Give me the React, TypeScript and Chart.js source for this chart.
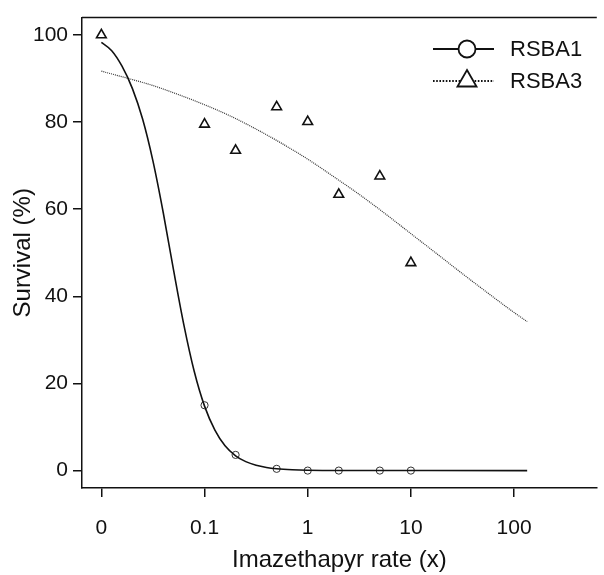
import React, { useEffect, useRef } from "react";
import { Chart, registerables } from "chart.js";

Chart.register(...registerables);

// ---- data ----
const doses = [0, 0.1, 0.2, 0.5, 1, 2, 5, 10];
const ZERO_AT = 0.01; // position where dose 0 is drawn on the log axis
const rsba1Obs = [null, 15, 3.6, 0.4, 0, 0, 0, 0];
const rsba3Obs = [100, 79.5, 73.5, 83.5, 80.1, 63.4, 67.6, 47.7];

// fitted curves
const rsba1FitX = [0.01, 0.0126, 0.0158, 0.02, 0.0251, 0.0316, 0.0398, 0.0501, 0.0631, 0.0794, 0.1, 0.126, 0.158, 0.2, 0.251, 0.316, 0.398, 0.501, 0.708, 1, 2, 134];
const rsba1FitY = [98.3, 96.4, 92.9, 87.7, 80.7, 71.1, 59.2, 46.0, 33.4, 22.8, 14.8, 9.3, 5.7, 3.4, 2.05, 1.22, 0.72, 0.43, 0.2, 0.09, 0.02, 0];

const rsba3FitX = [0.01, 0.0178, 0.0316, 0.0562, 0.1, 0.178, 0.316, 0.562, 1, 1.78, 3.16, 5.62, 10, 17.8, 31.6, 56.2, 100, 134];
const rsba3FitY = [91.7, 90.1, 88.4, 86.3, 84.0, 81.4, 78.4, 75.1, 71.5, 67.5, 63.4, 59.0, 54.4, 49.8, 45.2, 40.7, 36.3, 34.2];

const xTickValues = [0.01, 0.1, 1, 10, 100];
const xTickLabels = ["0", "0.1", "1", "10", "100"];
const yTickValues = [0, 20, 40, 60, 80, 100];

const seriesNames = ["RSBA1", "RSBA3"];

const FONT = "'Liberation Sans', Arial, Helvetica, sans-serif";
const INK = "#111";

const pos = (d: number) => (d === 0 ? ZERO_AT : d);

const frameAndLegend = {
  id: "frameAndLegend",
  afterDraw(chart: any) {
    const ctx = chart.ctx as CanvasRenderingContext2D;
    const { left, right, top } = chart.chartArea;
    ctx.save();
    // top frame line
    ctx.strokeStyle = INK;
    ctx.lineWidth = 1.5;
    ctx.beginPath();
    ctx.moveTo(left, top);
    ctx.lineTo(right, top);
    ctx.stroke();

    // legend
    const lx0 = 433, lx1 = 494, mx = 467, tx = 510;
    const rows = [49, 81];
    seriesNames.forEach((name, i) => {
      const y = rows[i];
      ctx.strokeStyle = INK;
      ctx.lineWidth = i === 0 ? 2 : 2.2;
      ctx.setLineDash(i === 0 ? [] : [1.6, 1.6]);
      ctx.beginPath();
      ctx.moveTo(lx0, y);
      ctx.lineTo(lx1, y);
      ctx.stroke();
      ctx.setLineDash([]);
      ctx.lineWidth = 1.8;
      ctx.fillStyle = "#fff";
      ctx.beginPath();
      if (i === 0) {
        ctx.arc(mx, y, 8.5, 0, Math.PI * 2);
      } else {
        const r = 11;
        ctx.moveTo(mx, y - r);
        ctx.lineTo(mx + (r * Math.sqrt(3)) / 2, y + r / 2);
        ctx.lineTo(mx - (r * Math.sqrt(3)) / 2, y + r / 2);
        ctx.closePath();
      }
      ctx.fill();
      ctx.stroke();
      ctx.fillStyle = INK;
      ctx.font = `22px ${FONT}`;
      ctx.textAlign = "left";
      ctx.textBaseline = "middle";
      ctx.fillText(name, tx, y + 1);
    });
    ctx.restore();
  },
};

export default function App() {
  const ref = useRef<HTMLCanvasElement | null>(null);

  useEffect(() => {
    if (!ref.current) return;
    const chart = new Chart(ref.current, {
      type: "scatter",
      data: {
        datasets: [
          {
            label: seriesNames[0] + " fit",
            type: "line",
            data: rsba1FitX.map((x, i) => ({ x, y: rsba1FitY[i] })),
            borderColor: INK,
            borderWidth: 1.6,
            pointRadius: 0,
            cubicInterpolationMode: "monotone",
            fill: false,
          },
          {
            label: seriesNames[1] + " fit",
            type: "line",
            data: rsba3FitX.map((x, i) => ({ x, y: rsba3FitY[i] })),
            borderColor: "#333",
            borderWidth: 1.2,
            borderDash: [1, 1],
            pointRadius: 0,
            cubicInterpolationMode: "monotone",
            fill: false,
          },
          {
            label: seriesNames[0],
            data: doses
              .map((d, i) => ({ x: pos(d), y: rsba1Obs[i] }))
              .filter((p) => p.y !== null) as any,
            showLine: false,
            pointStyle: "circle",
            pointRadius: 3.6,
            pointBorderWidth: 1,
            pointBorderColor: "#333",
            pointBackgroundColor: "rgba(0,0,0,0)",
          },
          {
            label: seriesNames[1],
            data: doses.map((d, i) => ({ x: pos(d), y: rsba3Obs[i] })),
            showLine: false,
            pointStyle: "triangle",
            pointRadius: 5.6,
            pointBorderWidth: 1.6,
            pointBorderColor: INK,
            pointBackgroundColor: "rgba(0,0,0,0)",
          },
        ],
      },
      options: {
        animation: false,
        responsive: false,
        events: [],
        layout: { padding: { top: 13, right: 0, left: 0, bottom: 0 } },
        plugins: { legend: { display: false }, tooltip: { enabled: false } },
        scales: {
          x: {
            type: "logarithmic",
            min: 0.00649,
            max: 634,
            afterBuildTicks: (scale: any) => {
              scale.ticks = xTickValues.map((v) => ({ value: v }));
            },
            afterFit: (scale: any) => {
              scale.height = 87;
            },
            ticks: {
              autoSkip: false,
              maxRotation: 0,
              padding: 19,
              color: INK,
              font: { family: FONT, size: 21 },
              callback: (_v: any, i: number) => xTickLabels[i],
            },
            grid: { drawOnChartArea: false, drawTicks: true, tickLength: 9, color: INK, lineWidth: 1.5 },
            border: { display: true, color: INK, width: 1.5 },
            title: {
              display: true,
              text: "Imazethapyr rate (x)",
              color: INK,
              font: { family: FONT, size: 24 },
              padding: { top: 0, bottom: 0 },
            },
          },
          y: {
            type: "linear",
            min: -4,
            max: 104,
            afterBuildTicks: (scale: any) => {
              scale.ticks = yTickValues.map((v) => ({ value: v }));
            },
            afterFit: (scale: any) => {
              scale.width = 82;
            },
            ticks: {
              padding: 5,
              color: INK,
              font: { family: FONT, size: 21 },
              callback: (v: any) => String(v),
            },
            grid: { drawOnChartArea: false, drawTicks: true, tickLength: 9, color: INK, lineWidth: 1.5 },
            border: { display: true, color: INK, width: 1.5 },
            title: {
              display: true,
              text: "Survival (%)",
              color: INK,
              font: { family: FONT, size: 24 },
              padding: { top: 9, bottom: 0 },
            },
          },
        },
      },
      plugins: [frameAndLegend],
    });
    return () => chart.destroy();
  }, []);

  return (
    <div style={{ position: "fixed", left: 0, top: 0, width: 604, height: 575, background: "#fff" }}>
      <canvas ref={ref} width={604} height={575} style={{ width: 604, height: 575, display: "block" }} />
    </div>
  );
}
